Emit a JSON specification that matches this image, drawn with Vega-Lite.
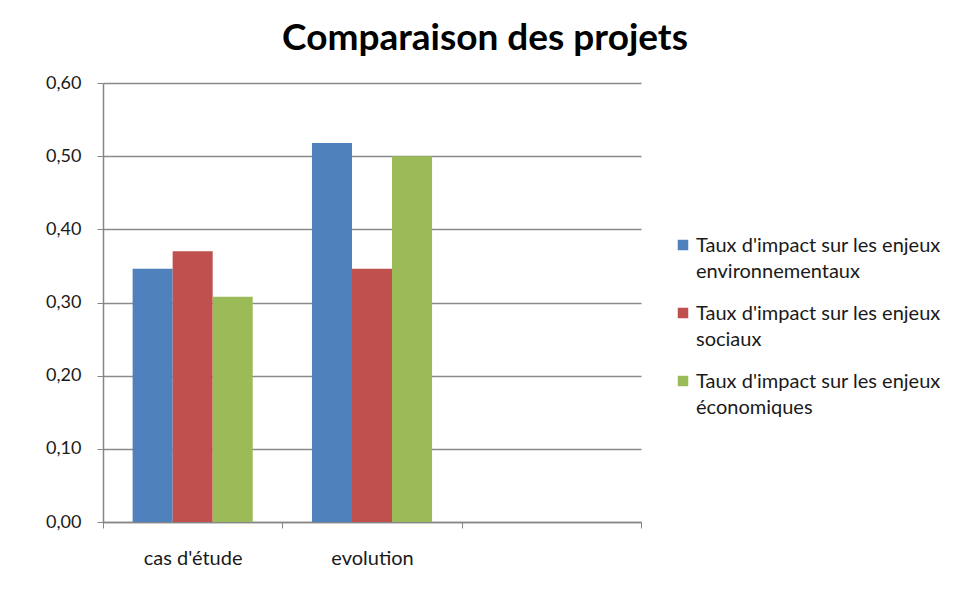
{
  "$schema": "https://vega.github.io/schema/vega-lite/v6.json",
  "width": 538,
  "height": 439,
  "autosize": {"type": "none"},
  "padding": {"left": 103, "top": 83, "right": 338, "bottom": 75},
  "background": "white",
  "config": {"view": {"stroke": null}, "font": "Lato"},
  "title": {
    "text": "Comparaison des projets",
    "fontSize": 37,
    "fontWeight": "bold",
    "font": "Lato",
    "color": "#000000",
    "anchor": "middle",
    "dx": 113,
    "offset": 16
  },
  "data": {
    "values": [
      {"categorie": "cas d'étude", "serie": "Taux d'impact sur les enjeux environnementaux", "valeur": 0.346},
      {"categorie": "cas d'étude", "serie": "Taux d'impact sur les enjeux sociaux", "valeur": 0.370},
      {"categorie": "cas d'étude", "serie": "Taux d'impact sur les enjeux économiques", "valeur": 0.308},
      {"categorie": "evolution", "serie": "Taux d'impact sur les enjeux environnementaux", "valeur": 0.518},
      {"categorie": "evolution", "serie": "Taux d'impact sur les enjeux sociaux", "valeur": 0.346},
      {"categorie": "evolution", "serie": "Taux d'impact sur les enjeux économiques", "valeur": 0.500}
    ]
  },
  "mark": {"type": "bar"},
  "encoding": {
    "x": {
      "field": "categorie",
      "type": "nominal",
      "sort": null,
      "scale": {"domain": ["cas d'étude", "evolution", " "], "paddingInner": 0, "paddingOuter": 0},
      "axis": {
        "title": null,
        "labelAngle": 0,
        "tickBand": "extent",
        "tickSize": 6,
        "tickColor": "#868686",
        "domainColor": "#868686",
        "domainWidth": 1.5,
        "labelPadding": 20,
        "labelFontSize": 20,
        "labelColor": "#1a1a1a",
        "labelFont": "Lato",
        "grid": false
      }
    },
    "xOffset": {
      "field": "serie",
      "type": "nominal",
      "sort": null,
      "scale": {"domain": ["Taux d'impact sur les enjeux environnementaux", "Taux d'impact sur les enjeux sociaux", "Taux d'impact sur les enjeux économiques"], "paddingInner": 0, "paddingOuter": 0.74}
    },
    "y": {
      "field": "valeur",
      "type": "quantitative",
      "scale": {"domain": [0, 0.6], "nice": false},
      "axis": {
        "title": null,
        "values": [0, 0.1, 0.2, 0.3, 0.4, 0.5, 0.6],
        "labelExpr": "replace(format(datum.value, '.2f'), '.', ',')",
        "grid": true,
        "gridColor": "#8a8a8a",
        "gridWidth": 1.5,
        "tickSize": 6,
        "tickColor": "#868686",
        "domainColor": "#868686",
        "domainWidth": 1.5,
        "labelPadding": 16,
        "labelFontSize": 18,
        "labelColor": "#1a1a1a",
        "labelFont": "Lato"
      }
    },
    "color": {
      "field": "serie",
      "type": "nominal",
      "sort": null,
      "scale": {
        "domain": ["Taux d'impact sur les enjeux environnementaux", "Taux d'impact sur les enjeux sociaux", "Taux d'impact sur les enjeux économiques"],
        "range": ["#4F81BD", "#C0504D", "#9BBB59"]
      },
      "legend": {
        "title": null,
        "orient": "none",
        "legendX": 570,
        "legendY": 152,
        "symbolType": "square",
        "symbolSize": 110,
        "symbolStrokeWidth": 0,
        "labelFontSize": 20,
        "labelFont": "Lato",
        "labelColor": "#1a1a1a",
        "labelLimit": 400,
        "labelBaseline": "alphabetic",
        "labelOffset": 3,
        "rowPadding": 21,
        "labelExpr": "[slice(datum.label, 0, 28), slice(datum.label, 29)]",
        "encode": {
          "labels": {"update": {"lineHeight": {"value": 26}, "dy": {"value": 7}}}
        }
      }
    }
  }
}
